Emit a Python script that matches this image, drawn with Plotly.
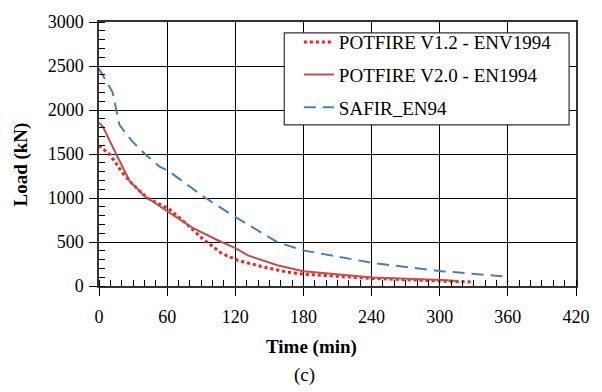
import plotly.graph_objects as go

t_v12 = [0, 9.5, 21, 29.5, 42.5, 61.6, 76, 90, 108, 122, 146, 166, 180, 241, 301.7, 330]
l_v12 = [1595, 1494, 1281, 1157, 1000, 876, 719, 551, 371, 292, 213, 157, 135, 86, 56, 45]

t_v20 = [0, 3.5, 14, 27, 40, 61.6, 81.6, 105, 120.7, 131, 157, 180, 241, 301.7, 316]
l_v20 = [1857, 1809, 1528, 1191, 1022, 835, 666, 517, 427, 348, 236, 168, 97, 67, 56]

t_saf = [0, 12, 18, 29.5, 40, 53, 61.6, 93.5, 120.7, 157, 180, 241, 301.7, 356.5, 360]
l_saf = [2470, 2200, 1831, 1640, 1506, 1360, 1303, 1003, 779, 498, 404, 262, 168, 110, 45]

names = ["POTFIRE V1.2 - ENV1994", "POTFIRE V2.0 - EN1994", "SAFIR_EN94"]
x_ticks = [0, 60, 120, 180, 240, 300, 360, 420]
y_ticks = [0, 500, 1000, 1500, 2000, 2500, 3000]

font = "Liberation Serif, Times New Roman, serif"

fig = go.Figure()
fig.add_trace(go.Scatter(x=t_v12, y=l_v12, mode="lines", name=names[0], legendgroup="a",
                         line=dict(color="#FF1A1A", width=3, dash="dot")))
fig.add_trace(go.Scatter(x=t_v20, y=l_v20, mode="lines", name=names[1], legendgroup="b",
                         line=dict(color="#C0504D", width=2)))
fig.add_trace(go.Scatter(x=t_saf, y=l_saf, mode="lines", name=names[2], legendgroup="c",
                         line=dict(color="#4A7EBB", width=2, dash="12px,7px")))

axis_common = dict(showline=True, linecolor="#333333", linewidth=1.5, mirror=True,
                   showgrid=True, gridcolor="black", gridwidth=1,
                   ticks="outside", ticklen=8, tickcolor="black", tickwidth=1.2,
                   zeroline=False, tickfont=dict(family=font, size=18, color="black"))

fig.update_layout(
    width=602, height=392,
    margin=dict(l=99, r=19, t=19, b=106),
    paper_bgcolor="white", plot_bgcolor="white",
    font=dict(family=font, size=18, color="black"),
    xaxis=dict(range=[0, 420], tickvals=x_ticks, ticklabelstandoff=6,
               minor=dict(dtick=10, tick0=0, ticks="inside", ticklen=6, tickcolor="black", showgrid=False),
               **axis_common),
    yaxis=dict(range=[0, 3000], tickvals=y_ticks, ticklabelstandoff=2,
               minor=dict(dtick=100, tick0=0, ticks="inside", ticklen=6, tickcolor="black", showgrid=False),
               **axis_common),
    legend=dict(x=0.419, y=0.996, xanchor="left", yanchor="top",
                bgcolor="rgba(0,0,0,0)", borderwidth=0,
                font=dict(family=font, size=19, color="black"),
                tracegroupgap=5, itemwidth=30),
    showlegend=True,
)

# legend frame
fig.add_shape(type="rect", xref="paper", yref="paper",
              x0=0.3884, x1=0.9855, y0=0.6105, y1=0.9588,
              line=dict(color="#333333", width=1.2), fillcolor="white", layer="above")

fig.add_annotation(text="<b>Time (min)</b>", xref="paper", yref="paper", x=0.446, y=-0.232,
                   showarrow=False, font=dict(family=font, size=19, color="black"),
                   xanchor="center", yanchor="middle")
fig.add_annotation(text="<b>Load (kN)</b>", xref="paper", yref="paper", x=-0.163, y=0.461,
                   showarrow=False, textangle=-90, font=dict(family=font, size=19, color="black"),
                   xanchor="center", yanchor="middle")
fig.add_annotation(text="(c)", xref="paper", yref="paper", x=0.43, y=-0.337,
                   showarrow=False, font=dict(family=font, size=19, color="black"),
                   yanchor="middle")

fig.write_html("out.html")
